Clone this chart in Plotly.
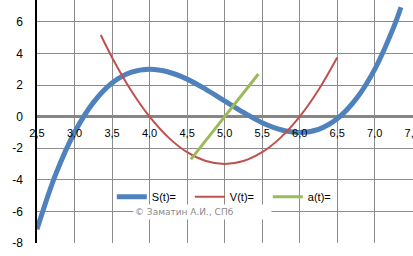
import plotly.graph_objects as go

# ---- data ----
t_s = [2.5, 2.75, 3.0, 3.25, 3.5, 3.75, 4.0, 4.25, 4.5, 4.75, 5.0, 5.25, 5.5,
       5.75, 6.0, 6.25, 6.5, 6.75, 7.0, 7.25, 7.35]
s_vals = [-7.13, -3.64, -1.0, 0.89, 2.13, 2.8, 3.0, 2.83, 2.38, 1.73, 1.0, 0.27,
          -0.38, -0.83, -1.0, -0.8, -0.13, 1.11, 3.0, 5.64, 6.93]

t_v = [3.35, 3.5, 3.75, 4.0, 4.25, 4.5, 4.75, 5.0, 5.25, 5.5, 5.75, 6.0, 6.25, 6.5]
v_vals = [5.17, 3.75, 1.69, 0.0, -1.31, -2.25, -2.81, -3.0, -2.81, -2.25, -1.31,
          0.0, 1.69, 3.75]

t_a = [4.55, 4.75, 5.0, 5.25, 5.45]
a_vals = [-2.7, -1.5, 0.0, 1.5, 2.7]

x_ticks = [2.5, 3.0, 3.5, 4.0, 4.5, 5.0, 5.5, 6.0, 6.5, 7.0, 7.5]
x_tick_labels = ["2,5", "3,0", "3,5", "4,0", "4,5", "5,0", "5,5", "6,0", "6,5", "7,0", "7,5"]
y_ticks = [-8, -6, -4, -2, 0, 2, 4, 6]
y_tick_labels = ["-8", "-6", "-4", "-2", "0", "2", "4", "6"]

series_names = ["S(t)=", "V(t)=", "a(t)="]
watermark = "© Заматин А.И., СПб"

# ---- figure ----
X_RANGE = [2.5, 7.51]
Y_RANGE = [-8, 7.39]
zero_pos = (0 - Y_RANGE[0]) / (Y_RANGE[1] - Y_RANGE[0])

fig = go.Figure()
fig.add_trace(go.Scatter(x=t_s, y=s_vals, mode="lines", name=series_names[0],
                         line=dict(color="#4F81BD", width=5, shape="spline")))
fig.add_trace(go.Scatter(x=t_v, y=v_vals, mode="lines", name=series_names[1],
                         line=dict(color="#C0504D", width=2, shape="spline")))
fig.add_trace(go.Scatter(x=t_a, y=a_vals, mode="lines", name=series_names[2],
                         line=dict(color="#9BBB59", width=3, shape="spline")))

fig.add_annotation(x=4.7, y=-6.05, xref="x", yref="y", text=watermark,
                   showarrow=False, bgcolor="white", width=135, height=12,
                   align="left",
                   font=dict(family="DejaVu Sans", size=9, color="#8A8A8A"))

fig.update_layout(
    width=413, height=256,
    margin=dict(l=37, r=0, t=0, b=13, autoexpand=False),
    paper_bgcolor="white", plot_bgcolor="white",
    separators=",.",
    font=dict(family="Liberation Sans, Arial, sans-serif", size=11, color="#000000"),
    showlegend=True,
    legend=dict(orientation="h", x=0.199, xanchor="left", y=0.19, yanchor="middle",
                bgcolor="rgba(0,0,0,0)", font=dict(size=11), entrywidth=33,
                itemwidth=30, tracegroupgap=0),
    xaxis=dict(range=X_RANGE, tickvals=x_ticks, ticktext=x_tick_labels,
               showgrid=True, gridcolor="#8C8C8C", gridwidth=1,
               zeroline=False, showline=False, ticks="",
               anchor="free", position=zero_pos, ticklabelstandoff=8,
               ticklabeloverflow="allow", automargin=False,
               tickfont=dict(size=11)),
    yaxis=dict(range=Y_RANGE, tickvals=y_ticks, ticktext=y_tick_labels,
               showgrid=True, gridcolor="#8C8C8C", gridwidth=1,
               zeroline=True, zerolinecolor="#868686", zerolinewidth=2.5,
               showline=True, linecolor="#000000", linewidth=1.5,
               automargin=False,
               ticks="", ticklabelstandoff=10, tickfont=dict(size=12)),
)

fig.write_html("out.html")
